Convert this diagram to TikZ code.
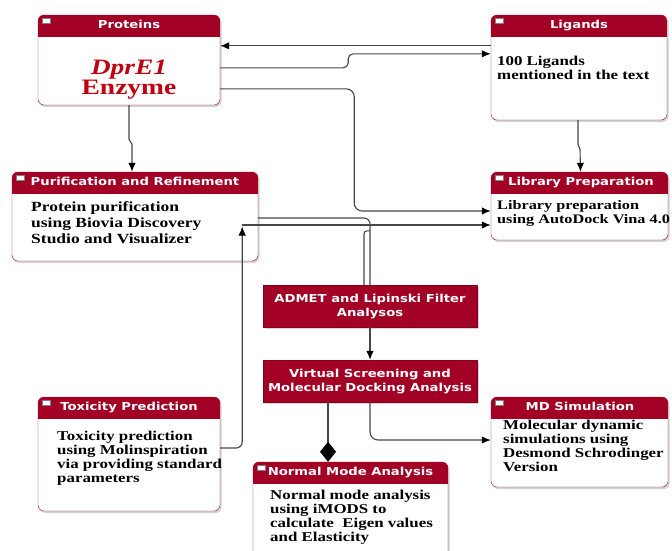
\documentclass[tikz,border=0pt]{standalone}
\usepackage{fontspec}
\usepackage{tikz}
\usetikzlibrary{arrows.meta, positioning, shadows, calc}
\newfontfamily\headfont{DejaVu Sans}[FakeStretch=1.2]
\newfontfamily\bodyfont{Liberation Serif}[FakeStretch=1.25]
\definecolor{boxred}{RGB}{163,0,38}
\definecolor{textred}{RGB}{192,0,16}
\definecolor{linegray}{RGB}{70,70,70}

\begin{document}
\begin{tikzpicture}[x=1pt, y=-1pt,
    classbox/.style = {rectangle, draw=boxred, fill=white, rounded corners=6pt, inner sep=0pt,
        drop shadow={shadow xshift=1.5pt, shadow yshift=-2pt, opacity=0.35},
        path picture={
            \fill[boxred, sharp corners] (path picture bounding box.north west) rectangle ([yshift=-22pt]path picture bounding box.north east);
            \filldraw[fill=white, draw=gray, sharp corners, line width=0.6pt] ([xshift=4pt, yshift=-3pt]path picture bounding box.north west) rectangle ++(8pt,-5pt);
        }},
    filterbox/.style = {rectangle, fill=boxred, draw=boxred!80!black, inner sep=0pt, minimum width=214pt, minimum height=42pt, align=center, text=white, font=\headfont\bfseries\fontsize{11}{14}\selectfont, drop shadow={shadow xshift=1.5pt, shadow yshift=-2pt, opacity=0.35}},
    title/.style = {text=white, font=\headfont\bfseries\fontsize{11}{13}\selectfont, inner sep=0pt, text height=1.5ex, text depth=.25ex},
    body/.style = {anchor=west, align=left, inner sep=0pt, font=\bodyfont\bfseries\fontsize{13.5}{14}\selectfont},
    arrow/.style = {draw=linegray, line width=1.1pt, -{Latex[length=9pt, width=7.5pt, color=black]}},
    link/.style = {draw=linegray, line width=1.1pt}
]
\useasboundingbox (0,0) rectangle (672,550);

% Top row
\node (prot) [classbox, minimum width=182pt, minimum height=90pt] at (129,60) {};
\node (prot_t) [title] at (129,26) {Proteins};
\node (prot_b) [align=center, inner sep=0pt, text=textred, font=\bodyfont\bfseries\fontsize{22}{20}\selectfont] at (129,80) {\textit{DprE1}\\Enzyme};

\node (lig) [classbox, minimum width=176pt, minimum height=105pt] at (579,67.5) {};
\node (lig_t) [title] at (579,26) {Ligands};
\node (lig_b) [body] at (497,67.5) {100 Ligands\\mentioned in the text};

% Second row
\node (pur) [classbox, minimum width=246pt, minimum height=89pt] at (135,216.5) {};
\node (pur_t) [title] at (135,183) {Purification and Refinement};
\node (pur_b) [body, font=\bodyfont\bfseries\fontsize{14}{16}\selectfont] at (31,223) {Protein purification\\using Biovia Discovery\\Studio and Visualizer};

\node (lib) [classbox, minimum width=177pt, minimum height=68pt] at (579.5,206) {};
\node (lib_t) [title] at (581,183) {Library Preparation};
\node (lib_b) [body, font=\bodyfont\bfseries\fontsize{13}{14}\selectfont] at (497,213) {Library preparation\\using AutoDock Vina 4.0};

% Middle column
\node (admet) [filterbox] at (370,306) {ADMET and Lipinski Filter\\Analysos};
\node (vs) [filterbox] at (370,381) {Virtual Screening and\\Molecular Docking Analysis};

% Bottom row
\node (tox) [classbox, minimum width=182pt, minimum height=114pt] at (129,454) {};
\node (tox_t) [title] at (129,408) {Toxicity Prediction};
\node (tox_b) [body] at (57,458.5) {Toxicity prediction\\using Molinspiration\\via providing standard\\parameters};

\node (md) [classbox, minimum width=177pt, minimum height=90pt] at (579.5,442) {};
\node (md_t) [title] at (580,408) {MD Simulation};
\node (md_b) [body] at (503,446) {Molecular dynamic\\simulations using\\Desmond Schrodinger\\Version};

\node (nma) [classbox, minimum width=195pt, minimum height=103pt] at (350.5,513.5) {};
\node (nma_t) [title] at (350.5,473) {Normal Mode Analysis};
\node (nma_b) [body] at (270,517) {Normal mode analysis\\using iMODS to\\calculate\ \ Eigen values\\and Elasticity};

% Connectors
\draw [arrow] ([yshift=-31pt]lig.north west) -- ([yshift=-31pt]prot.north east);
\draw [arrow, rounded corners=5pt] ([yshift=-53pt]prot.north east) -- ++(128,0) |- ([yshift=-39pt]lig.north west);
\draw [arrow, rounded corners=8pt] ([yshift=-74pt]prot.north east) -- ++(134,0) |- ([yshift=-5pt]lib.west);
\draw [arrow] (prot.south) -- ++(0,34) -- ++(3,5) -- ([xshift=-3pt]pur.north);
\draw [arrow] ([xshift=-1pt]lig.south) -- ++(0,24) -- ++(2,5) -- ([xshift=1pt]lib.north);

\draw [link, rounded corners=6pt] ([yshift=-1.5pt]pur.east) -| (admet.north);
\draw [link, rounded corners=3pt] ([xshift=-6pt]admet.north) |- ++(6,-54);
\draw [arrow, rounded corners=6pt] ([yshift=6pt]tox.east) -| ([xshift=-16pt, yshift=-10pt]pur.east);
\draw [arrow] ([xshift=-16pt, yshift=-8.5pt]pur.east) -- ([yshift=-19pt]lib.west);

\draw [arrow] (admet) -- (vs);
\draw [arrow, rounded corners=8pt] (vs.south) |- ([yshift=2pt]md.west);
\draw [link, -{Diamond[length=20pt, width=16pt, color=black]}] ([xshift=-42pt]vs.south) -- ([xshift=-22.5pt]nma.north);

\end{tikzpicture}
\end{document}
